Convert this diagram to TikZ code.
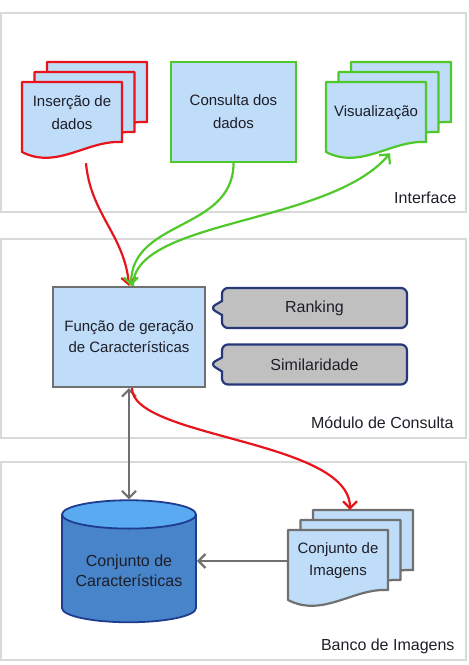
\documentclass[tikz,border=0pt]{standalone}
\usepackage{fontspec}
\setmainfont{Liberation Sans}
\usetikzlibrary{shapes.geometric,shapes.callouts,arrows.meta,calc}

\definecolor{boxblue}{HTML}{BFDCF8}
\definecolor{linered}{HTML}{E8141C}
\definecolor{linegreen}{HTML}{4FC82A}
\definecolor{linegray}{HTML}{707070}
\definecolor{panelgray}{HTML}{D9D9D9}
\definecolor{calloutgray}{HTML}{C0C0C0}
\definecolor{navy}{HTML}{24387A}
\definecolor{cylbody}{HTML}{4784CA}
\definecolor{cyltop}{HTML}{5AAAF2}
\definecolor{cylborder}{HTML}{1F3C8E}
\definecolor{textdark}{HTML}{1E1E28}

\begin{document}
\begin{tikzpicture}[x=1pt,y=-1pt,
	>={Straight Barb[length=7pt,width=14pt]},
	panel/.style={draw=panelgray, line width=1.2pt},
	paneltitle/.style={anchor=east, text=textdark, font=\fontsize{16}{19}\selectfont},
	page/.pic={\path[pic actions] (0,0) -- (100,0) -- (100,60) .. controls (65,58) and (35,88) .. (0,70) -- cycle;},
	pagestyle/.style={fill=boxblue, line width=2.2pt, line join=round},
	boxtext/.style={align=center, text=textdark, inner sep=0pt, minimum width=100pt, minimum height=62pt},
	callout/.style={rectangle callout, rounded corners=6pt, draw=navy, fill=calloutgray, line width=2.2pt,
		callout pointer width=14pt, minimum width=185pt, minimum height=40pt, text=textdark,
		font=\fontsize{16}{19}\selectfont},
	redline/.style={draw=linered, line width=2.2pt},
	greenline/.style={draw=linegreen, line width=2.2pt},
	grayline/.style={draw=linegray, line width=2.2pt}]
\useasboundingbox (0,0) rectangle (469,665);

\draw[panel] (1,13) rectangle (466,212);
\draw[panel] (1,239) rectangle (466,438);
\draw[panel] (1,462) rectangle (466,660);
\node[paneltitle] (tinterface) at (460,198) {Interface};
\node[paneltitle] (tconsulta) at (457,423) {Módulo de Consulta};
\node[paneltitle] (tbanco) at (458,646) {Banco de Imagens};

\foreach \k in {2,1,0} {
	\pic[pagestyle, draw=linered] at (22+12.5*\k, 82-10*\k) {page};
	\pic[pagestyle, draw=linegreen] at (326+12.5*\k, 82-10*\k) {page};
	\pic[pagestyle, draw=linegray] at (288+12.5*\k, 530-10*\k) {page};
}
\node[boxtext, font=\fontsize{15}{23}\selectfont] (ins) at (72,113) {Inserção de\\dados};
\node[boxtext, font=\fontsize{15}{23}\selectfont] (vis) at (376,113) {Visualização};
\node[boxtext, font=\fontsize{15}{22}\selectfont] (img) at (338,561) {Conjunto de\\Imagens};
\node[draw=linegreen, fill=boxblue, line width=2.2pt, align=center, text=textdark,
	minimum width=125pt, minimum height=100pt, font=\fontsize{15}{23}\selectfont] (con) at (233.5,112) {Consulta dos\\dados};

\node[draw=linegray, fill=boxblue, line width=2.2pt, align=center, text=textdark,
	minimum width=152pt, minimum height=100pt, font=\fontsize{15}{21}\selectfont] (fun) at (129,337) {Função de geração\\de Características};
\node[callout, callout absolute pointer={(210,308)}] (rank) at (314.5,308) {Ranking};
\node[callout, callout absolute pointer={(210,364)}] (simil) at (314.5,364.5) {Similaridade};

\node[cylinder, shape border rotate=90, aspect=0.25, draw=cylborder, line width=1.8pt,
	cylinder uses custom fill, cylinder body fill=cylbody, cylinder end fill=cyltop,
	minimum width=134pt, minimum height=122pt, align=center, text=textdark,
	font=\fontsize{16}{20}\selectfont] (cyl) at (129,571) {Conjunto de\\Características};

\coordinate (insout) at ($(ins.south)+(14,19)$);
\coordinate (visin) at ($(vis.south)+(14,9)$);
\coordinate (imgin) at ($(img.north)+(12,-20)$);

\draw[redline, ->] (insout) to[out=-85,in=95] (fun.north);
\draw[greenline, ->] (con.south) .. controls +(0,68) and +(0,-67) .. ([xshift=2pt]fun.north);
\draw[greenline, ->] ([xshift=4pt]fun.north) .. controls +(0,-67) and +(-60,72) .. (visin);
\draw[grayline, <->] (fun.south) -- (cyl.north);
\draw[redline, ->] ([xshift=3pt]fun.south) .. controls +(0,50) and +(0,-70) .. (imgin);
\draw[grayline, ->] (img.west) -- (img.west -| cyl.east);
\end{tikzpicture}
\end{document}
